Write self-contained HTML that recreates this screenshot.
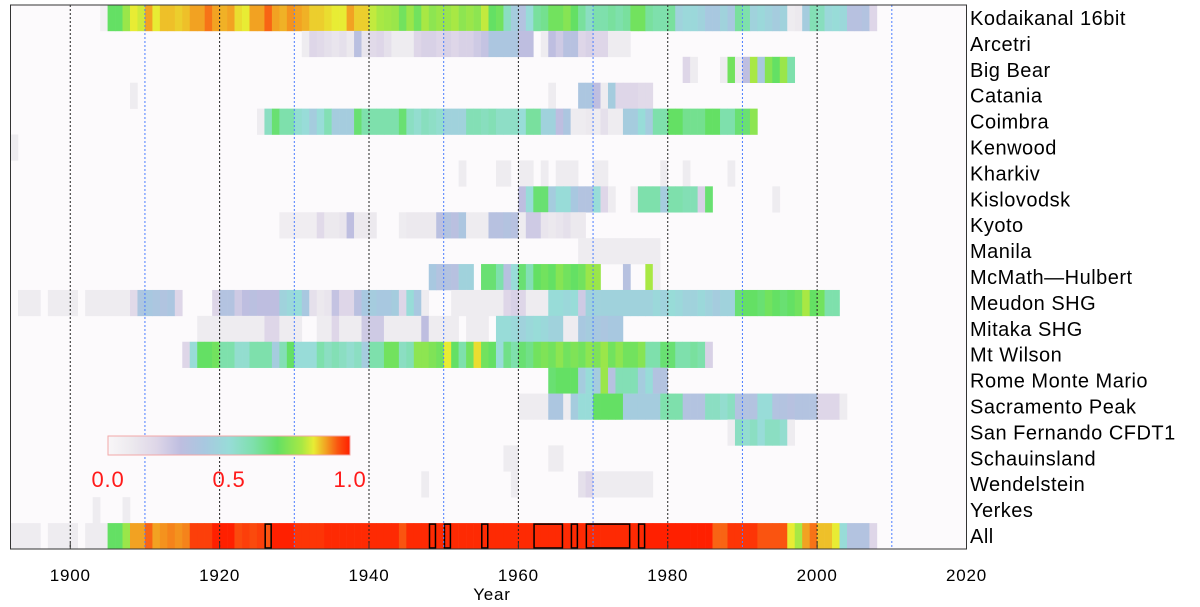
<!DOCTYPE html>
<html><head><meta charset="utf-8"><style>
html,body{margin:0;padding:0;background:#fff;}
svg{display:block;font-family:"Liberation Sans",sans-serif;}
</style></head><body>
<svg id="chart" width="1200" height="607" viewBox="0 0 1200 607" xmlns="http://www.w3.org/2000/svg">
<rect x="10.5" y="5" width="956" height="544" fill="#fcfafc"/>
<g id="cells"></g>
<g id="boxes"></g>
<g id="grid"></g>
<rect x="10.5" y="5" width="956" height="544" fill="none" stroke="#333" stroke-width="1"/>
<g id="xaxis"></g>
<text x="492" y="600" font-size="17" letter-spacing="0.8" text-anchor="middle" fill="#000">Year</text>
<g id="labels"></g>
<g id="cbar"></g>
</svg>
<script>
const stations = ["Kodaikanal 16bit","Arcetri","Big Bear","Catania","Coimbra","Kenwood","Kharkiv","Kislovodsk","Kyoto","Manila","McMath\u2014Hulbert","Meudon SHG","Mitaka SHG","Mt Wilson","Rome Monte Mario","Sacramento Peak","San Fernando CFDT1","Schauinsland","Wendelstein","Yerkes","All"];
const xTicks = [1900,1920,1940,1960,1980,2000,2020];
const cbarTicks = ["0.0","0.5","1.0"];
const cbarTickValues = [0,0.5,1];
const boxStart = [1926,1948,1950,1955,1962,1967,1969,1976];
const boxEnd   = [1926,1948,1950,1955,1965,1967,1974,1976];

const vKodaikanal = [[1904,[.05,.7,.7,.78,.85,.83,.9,.85,.88,.88,.87,.88,.9,.9,.93,.9,.89,.9,.86,.85,.9,.9,.94,.9,.89,.91,.9,.89,.87,.87,.86,.85,.85,.9,.87,.87,.82,.8,.79,.78,.72,.78,.72,.8,.76,.78,.78,.8,.76,.78,.76,.82,.7,.72,.55,.42,.35,.5,.62,.64,.72,.72,.75,.7,.62,.55,.6,.6,.62,.6,.62,.72,.72,.62,.6,.6,.62,.45,.48,.48,.45,.4,.4,.45,.4,.62,.6,.45,.48,.45,.42,.45,.08,.1,.42,.58,.56,.48,.5,.48,.33,.33,.35,.2]]];
const vArcetri = [[1931,[.08,.2,.18,.15,.12,.15,.1,.32,.12,.18,.2,.15,.08,.08,.08,.2,.22,.22,.2,.22,.2,.22,.22,.25,.28,.38,.38,.38,.38,.3,.3,null,.08,.3,.25,.33,.33,.2,.22,.2,.2,.08,.08,.08]]];
const vBigBear = [[1982,[.2,.08,null,null,null,.08,.72,.1,.3,.8,.4,.75,.7,.78,.6]]];
const vCatania = [[1908,[.08]],[1964,[.08,null,null,null,.38,.38,.3,.08,.42,.2,.2,.2,.18,.18]]];
const vCoimbra = [[1925,[.08,.55,.68,.6,.6,.52,.5,.42,.5,.58,.42,.42,.42,.68,.6,.6,.6,.6,.6,.68,.55,.52,.56,.54,.52,.45,.45,.45,.58,.58,.56,.58,.54,.54,.54,.5,.62,.62,.45,.45,.3,.38,.08,.08,.1,.08,.15,.08,.08,.42,.42,.5,.42,.6,.6,.7,.7,.64,.64,.64,.7,.7,.6,.6,.68,.68,.76]]];
const vKenwood = [[1892,[.08]]];
const vKharkiv = [[1952,[.08]],[1957,[.08,.08]],[1960,[.08,.08]],[1963,[.08]],[1965,[.08,.08,.08]],[1970,[.08,.08]],[1979,[.08]],[1982,[.08]],[1988,[.08]]];
const vKislovodsk = [[1960,[.3,.5,.68,.68,.42,.5,.5,.4,.35,.35,.5,.2,.08]],[1975,[.08,.6,.6,.6,.42,.6,.6,.58,.58,.22,.68]],[1994,[.08]]];
const vKyoto = [[1928,[.07,.07,.07,.07,.07,.18,.1,.1,.12,.3,.1,.1,.1]],[1944,[.08,.1,.1,.1,.1,.32,.35,.32,.38,.08,.08,.08,.33,.33,.35,.33,.08,.25,.25,.12,.1,.12,.15,.1,.1]]];
const vManila = [[1968,[.08,.08,.08,.08,.08,.08,.08,.08,.08,.08,.08]]];
const vMcMath = [[1948,[.4,.35,.35,.33,.45,.45,null,.68,.68,.6,.33,.5,.68,.58,.7,.72,.7,.75,.72,.7,.72,.78,.78]],[1974,[.33]],[1977,[.8,.08]]];
const vMeudon = [[1893,[.08,.08,.08]],[1897,[.08,.08,.08,.08]],[1902,[.08,.08,.08,.08,.08,.08,.18,.38,.4,.38,.36,.38,.2]],[1919,[.2,.35,.35,.25,.3,.32,.3,.3,.3,.45,.48,.5,.4,.15,.1,.12,.28,.2,.2,.32,.4,.42,.4,.4,.42,.2,.5,.4,.08]],[1951,[.08,.08,.08,.08,.08,.08,.08,.2,.22,.2,.08,.08,.08,.5,.5,.48,.5,.25,.45,.45,.45,.45,.45,.45,.45,.45,.45,.48,.45,.5,.48,.45,.45,.48,.45,.42,.45,.45,.68,.7,.7,.68,.72,.7,.68,.7,.72,.8,.7,.72,.6,.6]]];
const vMitaka = [[1917,[.08,.08,.08,.08,.08,.08,.08,.08,.08,.2,.2,.08,.08,.08]],[1933,[.08,.08,.2,.08,.08,.08,.25,.25,.25,.08,.08,.08,.08,.08,.3,.08,.08,.08,.08]],[1953,[.08,.08,.08]],[1957,[.5,.5,.48,.45,.48,.5,.48,.45,.45,.08,.08,.4,.42,.4,.38,.4,.4]]];
const vMtWilson = [[1915,[.2,.5,.7,.7,.72,.6,.6,.52,.52,.6,.6,.6,.42,.58,.7,.5,.5,.5,.6,.55,.58,.55,.52,.55,.42,.6,.6,.72,.72,.55,.58,.76,.76,.74,.72,.85,.7,.6,.72,.86,.72,.7,.5,.65,.6,.68,.65,.72,.74,.72,.76,.72,.74,.72,.76,.74,.78,.72,.76,.72,.72,.75,.6,.6,.68,.68,.6,.6,.62,.6,.22]]];
const vRome = [[1964,[.68,.7,.7,.7,.42,.5,.42,.78,.33,.58,.58,.58,.42,.5,.35,.35]]];
const vSacPeak = [[1960,[.08,.08,.08,.08,.38,.38,.08,.42,.5,.5,.7,.7,.7,.7,.42,.42,.42,.42,.42,.6,.6,.6,.35,.35,.35,.55,.55,.52,.55,.35,.35,.35,.5,.5,.35,.35,.33,.35,.35,.35,.2,.2,.2,.08]]];
const vSanFernando = [[1988,[.08,.55,.52,.55,.5,.55,.55,.52,.08]]];
const vSchauinsland = [[1958,[.08,.08]],[1964,[.08,.08]]];
const vWendelstein = [[1947,[.08]],[1959,[.08]],[1968,[.15,.2,.08,.08,.08,.08,.08,.08,.08,.08]]];
const vYerkes = [[1903,[.08]],[1907,[.08]]];
const vAll = [[1892,[.08,.08,.08,.08]],[1897,[.08,.08,.08,.08]],[1902,[.08,.08,.08,.7,.7,.78,.9,.9,.94,.9,.91,.92,.91,.92,.97,.97,.97,1,1,1,.96,.97,.96,.97,.95,1,1,1,.98,.98,.98,.98,.99,.99,.99,.99,.99,.99,.99,.99,.99,.99,.95,.99,.99,.99,.99,.99,.99,.99,.99,.99,.99,.99,.99,.99,.99,.99,.99,.99,.99,.99,.99,.99,.99,.99,.99,.99,.99,.99,.99,.99,.99,.99,.99,1,1,1,1,1,1,1,1,1,.94,.94,.98,.98,.98,.98,.95,.95,.95,.95,.85,.8,.9,.93,.88,.88,.85,.5,.35,.35,.35,.2]]];
const rowData = [vKodaikanal,vArcetri,vBigBear,vCatania,vCoimbra,vKenwood,vKharkiv,vKislovodsk,vKyoto,vManila,vMcMath,vMeudon,vMitaka,vMtWilson,vRome,vSacPeak,vSanFernando,vSchauinsland,vWendelstein,vYerkes,vAll];

const NS = "http://www.w3.org/2000/svg";
const X0 = 10.5, X1 = 966.5, Y0 = 5, Y1 = 549, YMIN = 1892, YMAX = 2020;
const xScale = yr => X0 + (yr - YMIN) * (X1 - X0) / (YMAX - YMIN);
const rowH = (Y1 - Y0) / stations.length;
const yScale = i => Y0 + i * rowH;
const stops = [[0,[248,246,248]],[0.1,[236,233,238]],[0.2,[222,214,232]],[0.3,[190,190,224]],[0.4,[168,200,224]],[0.5,[152,220,216]],[0.6,[126,224,172]],[0.7,[100,224,100]],[0.8,[168,232,68]],[0.85,[232,236,52]],[0.9,[242,162,34]],[0.95,[250,84,16]],[1,[255,32,0]]];
function color(v){
  v=Math.max(0,Math.min(1,v));
  for(let i=1;i<stops.length;i++){ if(v<=stops[i][0]){ const a=stops[i-1],b=stops[i],t=(v-a[0])/(b[0]-a[0]);
    return "rgb("+a[1].map((c,k)=>Math.round(c+(b[1][k]-c)*t)).join(",")+")"; } }
  return "rgb(255,32,0)";
}
function mk(tag, attrs, parent){ const e=document.createElementNS(NS,tag); for(const k in attrs) e.setAttribute(k,attrs[k]); parent.appendChild(e); return e; }

const cells = document.getElementById("cells");
rowData.forEach((segs, r) => {
  segs.forEach(seg => {
    seg[1].forEach((v, j) => {
      if (v === null) return;
      const yr = seg[0] + j;
      const x = xScale(yr), w = xScale(yr + 1) - x;
      const c = mk("rect", {x: x.toFixed(2), y: yScale(r).toFixed(2), width: (w + 0.3).toFixed(2), height: (rowH + 0.3).toFixed(2), fill: color(v)}, cells);
      
      
    });
  });
});

const boxes = document.getElementById("boxes");
const allRow = stations.length - 1;
boxStart.forEach((s, i) => {
  const x = xScale(s), w = xScale(boxEnd[i] + 1) - x;
  const b = mk("rect", {x: x + 0.75, y: yScale(allRow) + 1, width: w - 1.5, height: rowH - 2, fill: "none", stroke: "#000", "stroke-width": 1.5}, boxes);
  
  
});

const grid = document.getElementById("grid");
for (let yr = 1900; yr <= 2010; yr += 10) {
  const x = xScale(yr);
  const l = mk("line", {x1: x, x2: x, y1: Y0, y2: Y1, stroke: (yr % 20 === 0) ? "#222" : "#4a7dff", "stroke-width": 1, "stroke-dasharray": "2,2"}, grid);
  
  
}

const xaxis = document.getElementById("xaxis");
xTicks.forEach(t => {
  const x = xScale(t);
  const tk = mk("line", {x1: x, x2: x, y1: Y1, y2: Y1 - 6, stroke: "#333"}, xaxis);
  
  
  const tx = mk("text", {x: x, y: 581, "font-size": 17, "letter-spacing": 0.8, "text-anchor": "middle", fill: "#000"}, xaxis);
  tx.textContent = t;
  
  
});

const labels = document.getElementById("labels");
stations.forEach((s, i) => {
  const t = mk("text", {x: 970, y: yScale(i) + rowH / 2 + 7, "font-size": 20, "letter-spacing": 0.5, fill: "#000"}, labels);
  t.textContent = s;
  
  
});

const cbar = document.getElementById("cbar");
const CB0 = 108, CB1 = 350, CBY = 436, CBH = 19;
const defs = mk("defs", {}, document.getElementById("chart"));
const grad = mk("linearGradient", {id: "cbgrad", x1: "0", x2: "1", y1: "0", y2: "0"}, defs);
stops.forEach(s => { mk("stop", {offset: s[0], "stop-color": color(s[0])}, grad); });
const cbr = mk("rect", {x: CB0, y: CBY, width: CB1 - CB0, height: CBH, fill: "url(#cbgrad)", stroke: "#f2a8a8", "stroke-width": 1}, cbar);


cbarTicks.forEach((lab, i) => {
  const x = CB0 + cbarTickValues[i] * (CB1 - CB0);
  const t = mk("text", {x: x, y: 487, "font-size": 22, "letter-spacing": 0.8, "text-anchor": "middle", fill: "#ff1a1a"}, cbar);
  t.textContent = lab;
  
  
});
</script>
</body></html>
